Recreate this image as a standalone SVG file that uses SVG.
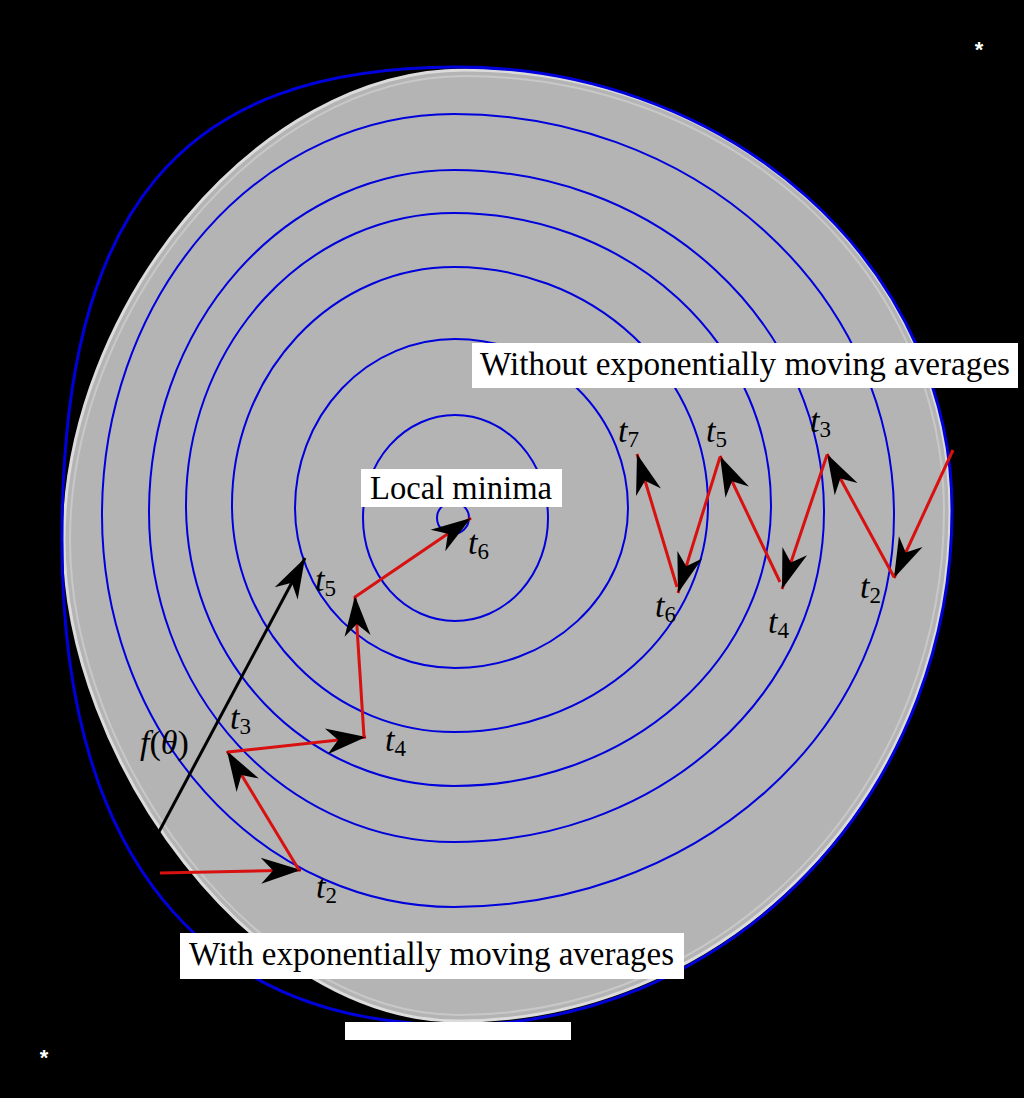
<svg xmlns="http://www.w3.org/2000/svg" width="1024" height="1098" viewBox="0 0 1024 1098">
  <style>
    .contour { fill: none; stroke: #0000dd; stroke-width: 2; }
    .step { fill: none; stroke: #d81010; stroke-width: 3; marker-end: url(#stealth); }
    .grad { fill: none; stroke: #000; stroke-width: 3; marker-end: url(#stealth); }
    .box { fill: #fff; }
    .title { font-family: "Liberation Serif", "DejaVu Serif", serif; font-size: 33px; fill: #000; }
    .lbl { font-family: "Liberation Serif", "DejaVu Serif", serif; font-size: 34px; fill: #000; }
    .it { font-style: italic; }
    .sub { font-size: 23px; font-style: normal; }
    .star { font-family: "Liberation Sans", sans-serif; font-size: 22px; font-weight: bold; fill: #fff; text-anchor: middle; }
  </style>
  <defs>
    <marker id="stealth" markerUnits="userSpaceOnUse" viewBox="-42 -15 44 30" markerWidth="44" markerHeight="30" refX="0" refY="0" orient="auto">
      <path d="M0,0 L-40,-13 L-28,0 L-40,13 Z" fill="#000"/>
    </marker>
  </defs>

  <rect id="background" x="0" y="0" width="1024" height="1098" fill="#000"/>

  <g id="surface">
    <path d="M465,70 A485,440 0 0 1 950,510 A492,511 0 0 1 458,1021 C255,1021 64,760 64,540 C64,310 255,70 465,70 Z" fill="#b4b4b4" stroke="#dcdcdc" stroke-width="3"/>
    <path d="M465,76 A479,434 0 0 1 944,510 A486,505 0 0 1 458,1015 C259,1015 70,758 70,540 C70,313 259,76 465,76 Z" fill="none" stroke="#c8c8c8" stroke-width="2"/>
  </g>

  <g id="contours">
    <path class="contour" d="M454,114 A440,401 0 0 1 894,515 A440,392 0 0 1 454,907 A352,392 0 0 1 102,515 A352,401 0 0 1 454,114 Z"/>
    <path class="contour" d="M454,170 A370,342 0 0 1 824,512 A370,330 0 0 1 454,842 A305,330 0 0 1 149,512 A305,342 0 0 1 454,170 Z"/>
    <path class="contour" d="M454,213 A317,292 0 0 1 771,505 A317,281 0 0 1 454,786 A268,281 0 0 1 186,505 A268,292 0 0 1 454,213 Z"/>
    <path class="contour" d="M454,267 A254,238 0 0 1 708,505 A254,227 0 0 1 454,732 A222,227 0 0 1 232,505 A222,238 0 0 1 454,267 Z"/>
    <path class="contour" d="M455,339 A173,169 0 0 1 628,508 A173,160 0 0 1 455,668 A160,160 0 0 1 295,508 A160,169 0 0 1 455,339 Z"/>
    <path class="contour" d="M455,415 A93,103 0 0 1 548,518 A93,103 0 0 1 455,621 A92,103 0 0 1 363,518 A92,103 0 0 1 455,415 Z"/>
    <circle class="contour" cx="453" cy="518" r="16"/>
    <path class="contour" style="stroke-width:3" d="M457,67 A495,443 0 0 1 952,510 A494,515 0 0 1 458,1025 C201,1025 62,855 62,540 C62,209 180,67 457,67 Z"/>
  </g>

  <g id="connectors">
    <!-- with EMA -->
    <line class="step" x1="160" y1="873" x2="301" y2="870"/>
    <line class="step" x1="299" y1="870" x2="227" y2="751"/>
    <line class="step" x1="228" y1="752" x2="366" y2="737"/>
    <line class="step" x1="364" y1="737" x2="355" y2="596"/>
    <line class="step" x1="355" y1="597" x2="471" y2="518"/>
    <!-- gradient -->
    <line class="grad" x1="153" y1="843" x2="305" y2="558"/>
    <!-- without EMA -->
    <line class="step" x1="953" y1="450" x2="894" y2="578"/>
    <line class="step" x1="894" y1="577" x2="827" y2="454"/>
    <line class="step" x1="827" y1="455" x2="782" y2="589"/>
    <line class="step" x1="780" y1="582" x2="720" y2="456"/>
    <line class="step" x1="720" y1="457" x2="678" y2="593"/>
    <line class="step" x1="677" y1="587" x2="637" y2="454"/>
  </g>

  <g id="labels">
    <text class="lbl" x="316" y="898"><tspan class="it">t</tspan><tspan class="sub" dy="5">2</tspan></text>
    <text class="lbl" x="230" y="729"><tspan class="it">t</tspan><tspan class="sub" dy="5">3</tspan></text>
    <text class="lbl" x="385" y="751"><tspan class="it">t</tspan><tspan class="sub" dy="5">4</tspan></text>
    <text class="lbl" x="315" y="591"><tspan class="it">t</tspan><tspan class="sub" dy="5">5</tspan></text>
    <text class="lbl" x="468" y="554"><tspan class="it">t</tspan><tspan class="sub" dy="5">6</tspan></text>
    <text class="lbl" x="140" y="754"><tspan class="it">f</tspan>(<tspan class="it">θ</tspan>)</text>

    <text class="lbl" x="860" y="598"><tspan class="it">t</tspan><tspan class="sub" dy="5">2</tspan></text>
    <text class="lbl" x="810" y="432"><tspan class="it">t</tspan><tspan class="sub" dy="5">3</tspan></text>
    <text class="lbl" x="768" y="633"><tspan class="it">t</tspan><tspan class="sub" dy="5">4</tspan></text>
    <text class="lbl" x="706" y="442"><tspan class="it">t</tspan><tspan class="sub" dy="5">5</tspan></text>
    <text class="lbl" x="655" y="617"><tspan class="it">t</tspan><tspan class="sub" dy="5">6</tspan></text>
    <text class="lbl" x="618" y="442"><tspan class="it">t</tspan><tspan class="sub" dy="5">7</tspan></text>
  </g>

  <g id="note-without">
    <rect class="box" x="472" y="343" width="546" height="45"/>
    <text class="title" x="480" y="375" textLength="530" lengthAdjust="spacingAndGlyphs">Without exponentially moving averages</text>
  </g>
  <g id="note-minima">
    <rect class="box" x="361" y="469" width="201" height="38"/>
    <text class="title" x="370" y="499" textLength="182" lengthAdjust="spacingAndGlyphs">Local minima</text>
  </g>
  <g id="note-with">
    <rect class="box" x="180" y="933" width="504" height="46"/>
    <text class="title" x="189" y="965" textLength="485" lengthAdjust="spacingAndGlyphs">With exponentially moving averages</text>
  </g>
  <rect id="blank-box" x="345" y="1022" width="226" height="18" fill="#fff"/>

  <text class="star" x="979" y="57">*</text>
  <text class="star" x="44" y="1065">*</text>
</svg>
